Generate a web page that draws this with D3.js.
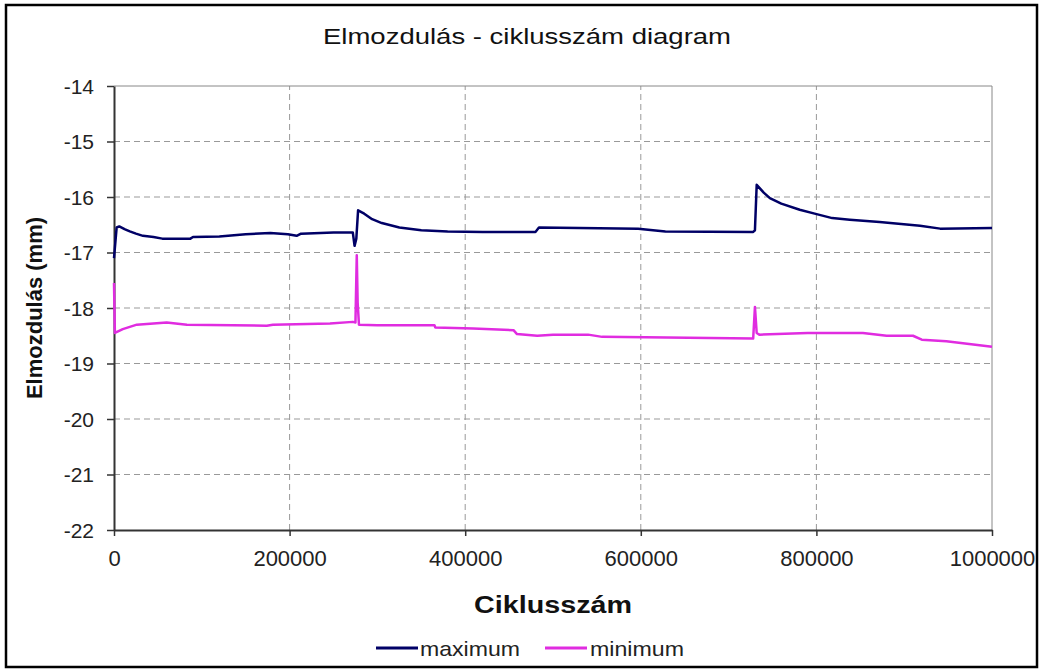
<!DOCTYPE html>
<html>
<head>
<meta charset="utf-8">
<script src="https://cdn.jsdelivr.net/npm/d3@7"></script>
<style>
  html, body { margin: 0; padding: 0; background: #fff; }
  svg { display: block; font-family: Arial, "Liberation Sans", sans-serif; }
</style>
</head>
<body>
<svg id="chart" width="1044" height="672"></svg>
<script>
const titleText = "Elmozdulás - ciklusszám diagram";
const xTitle = "Ciklusszám";
const yTitle = "Elmozdulás (mm)";
const seriesNames = ["maximum", "minimum"];
const seriesColors = ["#000066", "#e02ce0"];
const xTicks = [0, 200000, 400000, 600000, 800000, 1000000];
const yTicks = [-14, -15, -16, -17, -18, -19, -20, -21, -22];

const maxCycles = [0, 3000, 6000, 12000, 18000, 25000, 33000, 45000, 55000, 87000, 90000, 120000, 150000, 178000, 198000, 208000, 213000, 250000, 272000, 274000, 276000, 278000, 285000, 294000, 305000, 325000, 350000, 380000, 420000, 480000, 484000, 530000, 597000, 628000, 728000, 730000, 732000, 740000, 747000, 760000, 781000, 798000, 818000, 838000, 872000, 918000, 941000, 1000000];
const maxValues = [-17.1, -16.55, -16.53, -16.58, -16.62, -16.66, -16.70, -16.72, -16.75, -16.75, -16.72, -16.71, -16.67, -16.65, -16.67, -16.70, -16.66, -16.64, -16.64, -16.88, -16.75, -16.24, -16.30, -16.40, -16.47, -16.55, -16.60, -16.62, -16.63, -16.63, -16.55, -16.56, -16.57, -16.62, -16.63, -16.60, -15.78, -15.92, -16.02, -16.12, -16.23, -16.30, -16.38, -16.41, -16.45, -16.52, -16.57, -16.56];

const minCycles = [0, 1000, 10000, 26000, 60000, 83000, 174000, 181000, 246000, 272000, 275000, 276500, 277500, 279000, 300000, 365000, 366000, 409000, 455000, 459000, 482000, 500000, 540000, 556000, 728000, 730000, 732000, 735000, 790000, 853000, 880000, 910000, 920000, 948000, 1000000];
const minValues = [-17.55, -18.45, -18.38, -18.30, -18.26, -18.30, -18.32, -18.30, -18.28, -18.25, -18.26, -17.05, -17.9, -18.30, -18.31, -18.31, -18.35, -18.37, -18.40, -18.47, -18.50, -18.48, -18.48, -18.52, -18.55, -17.98, -18.45, -18.48, -18.45, -18.45, -18.50, -18.50, -18.57, -18.60, -18.70];

const svg = d3.select("#chart");
const W = 1044, H = 672;
const m = { left: 114, right: 1044 - 992, top: 86, bottom: 672 - 530 };

// outer frame
svg.append("rect").attr("x", 6).attr("y", 5).attr("width", 1031).attr("height", 662)
  .attr("fill", "#fff").attr("stroke", "#000").attr("stroke-width", 2.5);

const x = d3.scaleLinear().domain([0, 1000000]).range([m.left, W - m.right]);
const y = d3.scaleLinear().domain([-22, -14]).range([H - m.bottom, m.top]);

// grid
const grid = svg.append("g");
grid.selectAll(".gy").data(yTicks.filter(v => v !== -22 && v !== -14)).enter().append("line")
  .attr("x1", x(0)).attr("x2", x(1000000)).attr("y1", d => y(d)).attr("y2", d => y(d))
  .attr("stroke", "#999").attr("stroke-dasharray", "6,4").attr("stroke-width", 1);
grid.selectAll(".gx").data(xTicks.filter(v => v !== 0 && v !== 1000000)).enter().append("line")
  .attr("y1", y(-22)).attr("y2", y(-14)).attr("x1", d => x(d)).attr("x2", d => x(d))
  .attr("stroke", "#999").attr("stroke-dasharray", "6,4").attr("stroke-width", 1);
// top & right frame
svg.append("line").attr("x1", x(0)).attr("x2", x(1000000)).attr("y1", y(-14)).attr("y2", y(-14))
  .attr("stroke", "#888").attr("stroke-width", 1);
svg.append("line").attr("x1", x(1000000)).attr("x2", x(1000000)).attr("y1", y(-14)).attr("y2", y(-22))
  .attr("stroke", "#888").attr("stroke-width", 1);

// axes
const xAxis = d3.axisBottom(x).tickValues(xTicks).tickFormat(d3.format("d")).tickSizeInner(6).tickSizeOuter(0).tickPadding(14);
const yAxis = d3.axisLeft(y).tickValues(yTicks).tickFormat(d => String(d).replace("−", "-")).tickSizeInner(7).tickSizeOuter(0).tickPadding(13);

const gx = svg.append("g").attr("transform", `translate(0,${y(-22)})`).call(xAxis);
const gy = svg.append("g").attr("transform", `translate(${x(0)},0)`).call(yAxis);
[gx, gy].forEach(g => {
  g.select(".domain").attr("stroke", "#333").attr("stroke-width", 2);
  g.selectAll(".tick line").attr("stroke", "#333").attr("stroke-width", 1.5);
  g.selectAll(".tick text").attr("fill", "#222").style("font-family", "Arial, 'Liberation Sans', sans-serif");
});
gx.selectAll(".tick text").style("font-size", "22px");
gy.selectAll(".tick text").style("font-size", "21px").attr("dy", "0.35em");

// lines
const line = d3.line().x(d => x(d[0])).y(d => y(d[1]));
const maxData = maxCycles.map((c, i) => [c, maxValues[i]]);
const minData = minCycles.map((c, i) => [c, minValues[i]]);
svg.append("path").datum(minData).attr("d", line).attr("fill", "none")
  .attr("stroke", seriesColors[1]).attr("stroke-width", 2.5).attr("stroke-linejoin", "round");
svg.append("path").datum(maxData).attr("d", line).attr("fill", "none")
  .attr("stroke", seriesColors[0]).attr("stroke-width", 2.5).attr("stroke-linejoin", "round");

// titles
svg.append("text").attr("x", 527).attr("y", 44).attr("text-anchor", "middle")
  .style("font-size", "22px").attr("textLength", 408).attr("lengthAdjust", "spacingAndGlyphs")
  .attr("fill", "#111").text(titleText);
svg.append("text").attr("x", 553).attr("y", 613).attr("text-anchor", "middle")
  .style("font-size", "23px").style("font-weight", "bold").attr("textLength", 158).attr("lengthAdjust", "spacingAndGlyphs")
  .attr("fill", "#111").text(xTitle);
svg.append("text").attr("transform", `translate(42,308) rotate(-90)`).attr("text-anchor", "middle")
  .style("font-size", "22px").style("font-weight", "bold").attr("fill", "#111").text(yTitle);

// legend
const legend = [[376, 420, 100], [545, 590, 94]];
seriesNames.forEach((n, i) => {
  svg.append("line").attr("x1", legend[i][0]).attr("x2", legend[i][0] + 42)
    .attr("y1", 648).attr("y2", 648).attr("stroke", seriesColors[i]).attr("stroke-width", 3);
  svg.append("text").attr("x", legend[i][1]).attr("y", 656).style("font-size", "21px")
    .attr("textLength", legend[i][2]).attr("lengthAdjust", "spacingAndGlyphs")
    .attr("fill", "#222").text(n);
});
</script>
</body>
</html>
